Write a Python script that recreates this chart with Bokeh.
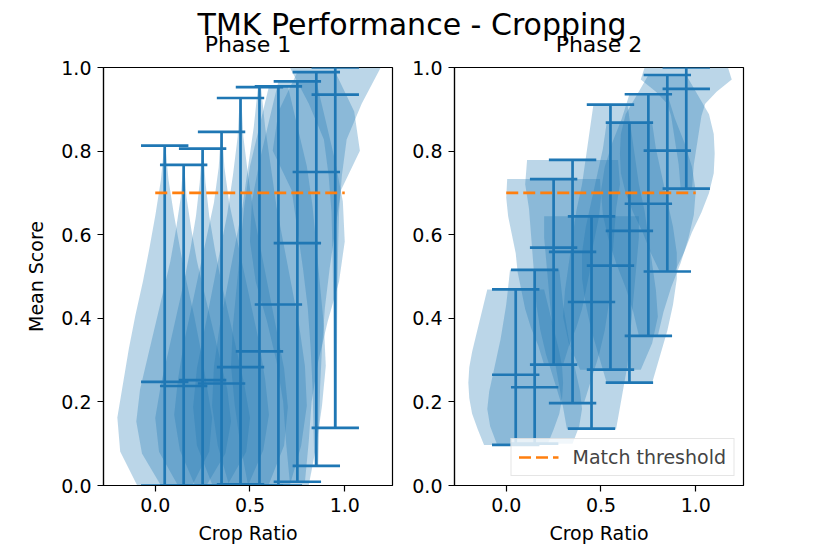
import numpy as np
from bokeh.plotting import figure
from bokeh.layouts import column, row
from bokeh.models import Range1d, FixedTicker, Legend, LegendItem
from bokeh.core.properties import value
from bokeh.embed import file_html
from bokeh.resources import INLINE

# ---------------- data ----------------
suptitle = "TMK Performance - Cropping"
panel_titles = ["Phase 1", "Phase 2"]
x_label = "Crop Ratio"
y_label = "Mean Score"
legend_label = "Match threshold"

positions = [0.05, 0.15, 0.25, 0.35, 0.45, 0.55, 0.65, 0.75, 0.85, 0.95]
x_ticks = [0.0, 0.5, 1.0]
x_tick_labels = ["0.0", "0.5", "1.0"]
y_ticks = [0.0, 0.2, 0.4, 0.6, 0.8, 1.0]
y_tick_labels = ["0.0", "0.2", "0.4", "0.6", "0.8", "1.0"]

threshold = 0.7
threshold_x = [0.0, 1.0]

# Phase 1 (min / max / mean per crop ratio)
p1_min = [0.0, 0.0, 0.0, 0.0, 0.003, 0.0, 0.0, 0.009, 0.047, 0.138]
p1_max = [0.813, 0.767, 0.806, 0.846, 0.927, 0.953, 0.955, 0.967, 0.989, 1.0]
p1_mean = [0.248, 0.238, 0.252, 0.244, 0.283, 0.321, 0.433, 0.580, 0.750, 0.935]
# violin half-width profiles, read bottom (min) to top (max)
p1_profiles = [
    [0.145, 0.235, 0.25, 0.22, 0.19, 0.155, 0.115, 0.08, 0.048, 0.02, 0.003],
    [0.12, 0.22, 0.25, 0.23, 0.19, 0.15, 0.11, 0.07, 0.04, 0.015, 0.003],
    [0.13, 0.23, 0.25, 0.22, 0.18, 0.14, 0.10, 0.065, 0.035, 0.015, 0.003],
    [0.14, 0.22, 0.25, 0.23, 0.20, 0.16, 0.12, 0.08, 0.04, 0.015, 0.003],
    [0.15, 0.23, 0.25, 0.23, 0.19, 0.15, 0.11, 0.07, 0.04, 0.015, 0.004],
    [0.16, 0.22, 0.25, 0.24, 0.21, 0.17, 0.13, 0.09, 0.06, 0.03, 0.008],
    [0.16, 0.20, 0.23, 0.25, 0.24, 0.22, 0.20, 0.18, 0.15, 0.10, 0.05],
    [0.04, 0.06, 0.075, 0.11, 0.16, 0.22, 0.25, 0.24, 0.20, 0.15, 0.10],
    [0.01, 0.015, 0.02, 0.03, 0.045, 0.07, 0.10, 0.13, 0.23, 0.20, 0.10],
    [0.008, 0.008, 0.009, 0.01, 0.012, 0.015, 0.02, 0.035, 0.06, 0.14, 0.24],
]

# Phase 2
p2_min = [0.097, 0.100, 0.289, 0.197, 0.136, 0.277, 0.246, 0.358, 0.512, 0.710]
p2_max = [0.469, 0.516, 0.733, 0.779, 0.644, 0.911, 0.868, 0.936, 0.982, 1.0]
p2_mean = [0.265, 0.235, 0.569, 0.559, 0.439, 0.526, 0.609, 0.674, 0.801, 0.949]
p2_profiles = [
    [0.167, 0.20, 0.23, 0.245, 0.25, 0.245, 0.23, 0.21, 0.19, 0.17, 0.15],
    [0.20, 0.235, 0.25, 0.24, 0.22, 0.20, 0.18, 0.165, 0.15, 0.14, 0.13],
    [0.05, 0.08, 0.12, 0.15, 0.17, 0.19, 0.20, 0.22, 0.24, 0.25, 0.245],
    [0.06, 0.10, 0.14, 0.17, 0.19, 0.20, 0.21, 0.22, 0.23, 0.25, 0.24],
    [0.13, 0.15, 0.17, 0.19, 0.20, 0.21, 0.22, 0.23, 0.24, 0.25, 0.25],
    [0.16, 0.22, 0.25, 0.24, 0.22, 0.20, 0.18, 0.15, 0.13, 0.11, 0.09],
    [0.12, 0.16, 0.20, 0.23, 0.25, 0.25, 0.23, 0.20, 0.17, 0.14, 0.12],
    [0.05, 0.08, 0.12, 0.17, 0.21, 0.24, 0.25, 0.23, 0.19, 0.14, 0.10],
    [0.04, 0.09, 0.13, 0.18, 0.22, 0.245, 0.25, 0.245, 0.22, 0.16, 0.10],
    [0.03, 0.035, 0.04, 0.05, 0.06, 0.07, 0.08, 0.10, 0.16, 0.24, 0.22],
]

# ---------------- style / layout ----------------
C0 = "#1f77b4"
C1 = "#ff7f0e"
FONT = "DejaVu Sans"
CAP = 0.125
LW = 2.7

TITLE_H = 56
P1_BL = 103
FRAME_W = 289
GAP = 10
P2_BL = 52
P2_BR = 80
B_TOP = 11
FRAME_H = 418
B_BOT = 62
X_RANGE = (-0.273, 1.252)
SUP_Y = 24      # text anchor positions inside the title strip (px, downward)
SUB_Y = 43.5


def make_panel(border_left, border_right, with_ylabel):
    p = figure(width=border_left + FRAME_W + border_right,
               height=B_TOP + FRAME_H + B_BOT, title=None,
               x_range=Range1d(*X_RANGE), y_range=Range1d(0, 1),
               toolbar_location=None, output_backend="svg",
               min_border_left=border_left, min_border_right=border_right,
               min_border_top=B_TOP, min_border_bottom=B_BOT)
    p.grid.visible = False
    p.outline_line_color = "black"
    p.outline_line_width = 1.2
    p.outline_line_alpha = 1.0
    p.xaxis.ticker = FixedTicker(ticks=x_ticks)
    p.xaxis.major_label_overrides = dict(zip(x_ticks, x_tick_labels))
    p.yaxis.ticker = FixedTicker(ticks=y_ticks)
    p.yaxis.major_label_overrides = dict(zip(y_ticks, y_tick_labels))
    for ax in (p.xaxis[0], p.yaxis[0]):
        ax.axis_line_width = 1.2
        ax.major_tick_in = 0
        ax.major_tick_out = 6
        ax.major_tick_line_width = 1.2
        ax.minor_tick_line_color = None
        ax.major_label_text_font = FONT
        ax.major_label_text_font_size = "19px"
        ax.major_label_text_color = "black"
        ax.major_label_standoff = 6
        ax.axis_label_text_font = FONT
        ax.axis_label_text_font_size = "19px"
        ax.axis_label_text_font_style = "normal"
        ax.axis_label_text_color = "black"
    p.xaxis.axis_label = x_label
    p.xaxis.axis_label_standoff = 7
    if with_ylabel:
        p.yaxis.axis_label = y_label
        p.yaxis.axis_label_standoff = 11
    return p


def draw_violins(p, mins, maxs, means, profiles):
    xs, ys = [], []
    for pos, lo, hi, prof in zip(positions, mins, maxs, profiles):
        hw = np.array(prof)
        levels = np.linspace(lo, hi, len(hw))
        xs.append(list(pos + hw) + list(pos - hw[::-1]))
        ys.append(list(levels) + list(levels[::-1]))
    p.patches(xs, ys, fill_color=C0, fill_alpha=0.3, line_color=None)
    pos = np.array(positions)
    p.segment(x0=pos, y0=mins, x1=pos, y1=maxs, line_color=C0, line_width=LW)
    for vals in (mins, maxs, means):
        p.segment(x0=pos - CAP, y0=vals, x1=pos + CAP, y1=vals,
                  line_color=C0, line_width=LW)
    return p.line(threshold_x, [threshold] * len(threshold_x), line_color=C1,
                  line_width=LW, line_dash="12 5")


p1 = make_panel(P1_BL, GAP, True)
p2 = make_panel(P2_BL, P2_BR, False)
draw_violins(p1, p1_min, p1_max, p1_mean, p1_profiles)
thr2 = draw_violins(p2, p2_min, p2_max, p2_mean, p2_profiles)

legend = Legend(items=[LegendItem(label=legend_label, renderers=[thr2])],
                location="bottom_right")
legend.label_text_font = FONT
legend.label_text_font_size = "19px"
legend.label_standoff = 14
legend.glyph_width = 40
legend.glyph_height = 20
legend.padding = 7
legend.margin = 9
legend.border_line_color = "#cccccc"
legend.border_line_width = 1
legend.background_fill_alpha = 0.8
p2.add_layout(legend)

# title strip (page-pixel coordinates, y downward)
total_w = P1_BL + FRAME_W + GAP + P2_BL + FRAME_W + P2_BR
t = figure(width=total_w, height=TITLE_H, title=None,
           x_range=Range1d(0, total_w), y_range=Range1d(TITLE_H, 0),
           x_axis_location=None, y_axis_location=None,
           toolbar_location=None, output_backend="svg",
           min_border_left=0, min_border_right=0,
           min_border_top=0, min_border_bottom=0)
t.grid.visible = False
t.outline_line_color = None
centers = [P1_BL + FRAME_W / 2,
           P1_BL + FRAME_W + GAP + P2_BL + FRAME_W / 2]
t.text(x=[total_w / 2], y=[SUP_Y], text=[suptitle],
       text_font=value(FONT), text_font_size="30px", text_align="center",
       text_baseline="alphabetic", text_color="black")
t.text(x=centers, y=[SUB_Y, SUB_Y], text=panel_titles,
       text_font=value(FONT), text_font_size="22px", text_align="center",
       text_baseline="alphabetic", text_color="black")

layout = column(t, row(p1, p2, spacing=0), spacing=0)
open("out.html", "w").write(file_html(layout, INLINE))
